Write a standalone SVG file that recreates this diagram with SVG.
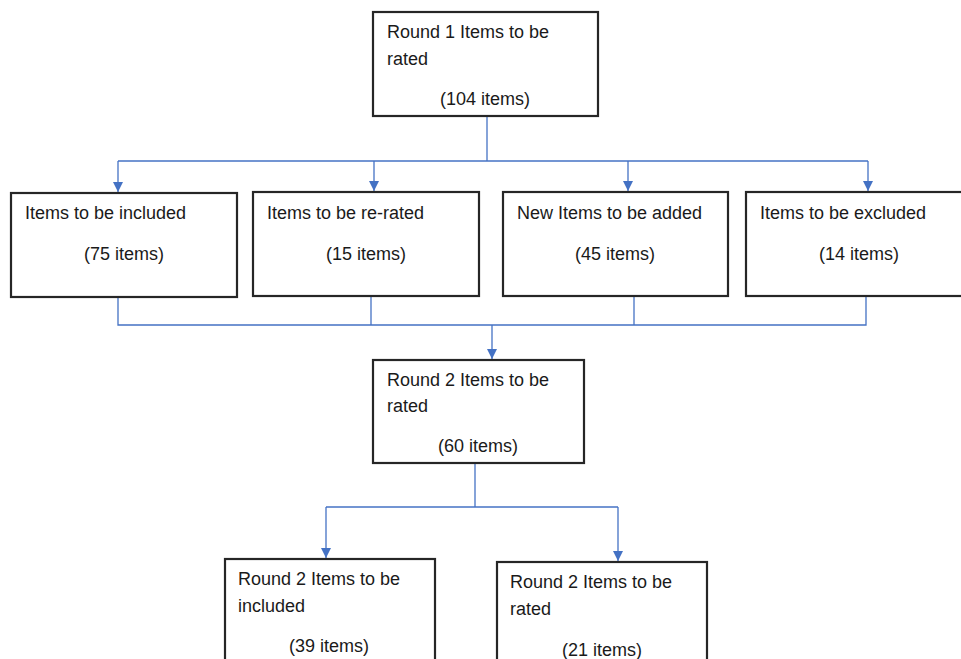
<svg xmlns="http://www.w3.org/2000/svg" width="961" height="659" viewBox="0 0 961 659">
<style>
.box{fill:#fff;stroke:#262626;stroke-width:2.2}
.t{font-family:"Liberation Sans",Arial,sans-serif;font-size:18px;fill:#1a1a1a}
.c{text-anchor:middle}
.ln{fill:none;stroke:#4472C4;stroke-width:1.3}
</style>
<defs>
<marker id="ah" markerWidth="10" markerHeight="11" refX="10" refY="5" orient="auto" markerUnits="userSpaceOnUse" viewBox="0 0 10 10">
<path d="M0,0 L10,5 L0,10 Z" fill="#4472C4"/>
</marker>
</defs>
<rect width="961" height="659" fill="#fff"/>
<g id="connectors">
<path class="ln" d="M487,116 V161"/>
<path class="ln" d="M118,161 H868"/>
<path class="ln" d="M118,161 V192" marker-end="url(#ah)"/>
<path class="ln" d="M374,161 V191" marker-end="url(#ah)"/>
<path class="ln" d="M628,161 V191" marker-end="url(#ah)"/>
<path class="ln" d="M868,161 V191" marker-end="url(#ah)"/>
<path class="ln" d="M118,297 V325 H866 V296"/>
<path class="ln" d="M371,296 V325"/>
<path class="ln" d="M634,296 V325"/>
<path class="ln" d="M492,325 V359" marker-end="url(#ah)"/>
<path class="ln" d="M475,463 V507"/>
<path class="ln" d="M326,507 H618"/>
<path class="ln" d="M326,507 V558" marker-end="url(#ah)"/>
<path class="ln" d="M618,507 V561" marker-end="url(#ah)"/>
</g>
<g id="n1">
<rect class="box" x="373" y="12" width="225" height="104"/>
<text class="t" x="387" y="38">Round 1 Items to be</text>
<text class="t" x="387" y="65">rated</text>
<text class="t c" x="485" y="105">(104 items)</text>
</g>
<g id="n2">
<rect class="box" x="11" y="193" width="226" height="104"/>
<text class="t" x="25" y="219">Items to be included</text>
<text class="t c" x="124" y="260">(75 items)</text>
</g>
<g id="n3">
<rect class="box" x="253" y="192" width="226" height="104"/>
<text class="t" x="267" y="219">Items to be re-rated</text>
<text class="t c" x="366" y="260">(15 items)</text>
</g>
<g id="n4">
<rect class="box" x="503" y="192" width="225" height="104"/>
<text class="t" x="517" y="219">New Items to be added</text>
<text class="t c" x="615" y="260">(45 items)</text>
</g>
<g id="n5">
<rect class="box" x="746" y="192" width="228" height="104"/>
<text class="t" x="760" y="219">Items to be excluded</text>
<text class="t c" x="859" y="260">(14 items)</text>
</g>
<g id="n6">
<rect class="box" x="373" y="360" width="211" height="103"/>
<text class="t" x="387" y="386">Round 2 Items to be</text>
<text class="t" x="387" y="412">rated</text>
<text class="t c" x="478" y="452">(60 items)</text>
</g>
<g id="n7">
<rect class="box" x="225" y="559" width="210" height="110"/>
<text class="t" x="238" y="585">Round 2 Items to be</text>
<text class="t" x="238" y="612">included</text>
<text class="t c" x="329" y="652">(39 items)</text>
</g>
<g id="n8">
<rect class="box" x="497" y="562" width="210" height="110"/>
<text class="t" x="510" y="588">Round 2 Items to be</text>
<text class="t" x="510" y="615">rated</text>
<text class="t c" x="602" y="656">(21 items)</text>
</g>
</svg>
